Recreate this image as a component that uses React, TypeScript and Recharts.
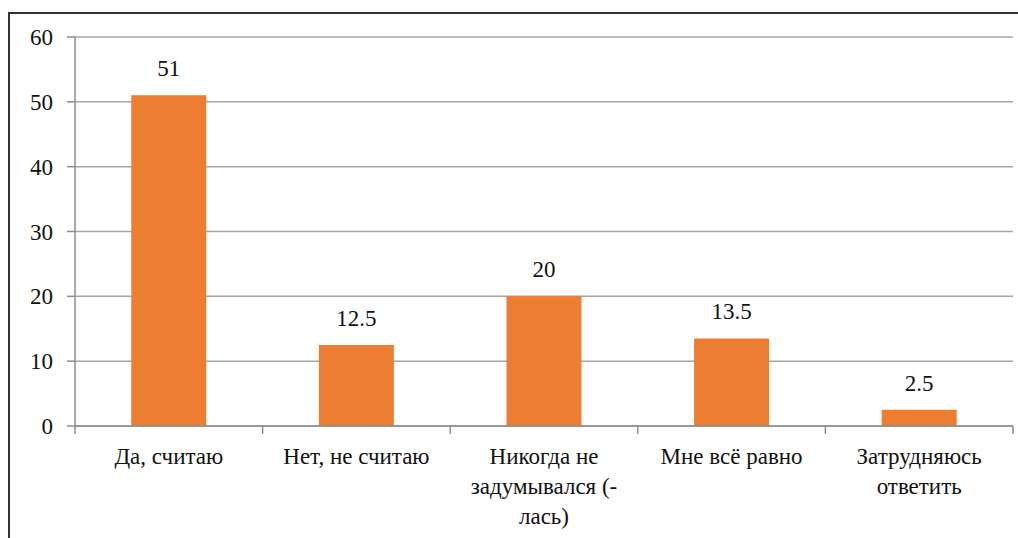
import React from 'react';
import { BarChart, Bar, XAxis, YAxis, CartesianGrid, LabelList } from 'recharts';

const categories = [
  'Да, считаю',
  'Нет, не считаю',
  'Никогда не задумывался (-лась)',
  'Мне всё равно',
  'Затрудняюсь ответить',
];
const categoryLines = [
  ['Да, считаю'],
  ['Нет, не считаю'],
  ['Никогда не', 'задумывался (-', 'лась)'],
  ['Мне всё равно'],
  ['Затрудняюсь', 'ответить'],
];
const values = [51, 12.5, 20, 13.5, 2.5];
const yTicks = [0, 10, 20, 30, 40, 50, 60];

const data = categories.map((c, i) => ({ name: c, value: values[i] }));

const FONT = 'Liberation Serif';
const FS = 23;
const AXIS = '#8c8c8c';

const CatTick = (props: any) => {
  const { x, y, payload, index, visibleTicksCount } = props;
  const idx = payload?.index ?? index ?? 0;
  const lines = categoryLines[idx] ?? [String(payload.value)];
  const off = payload?.offset ?? 0;
  const isLast = idx === (visibleTicksCount ?? categories.length) - 1;
  return (
    <g>
      <line x1={x - off} x2={x - off} y1={y - 8} y2={y} stroke={AXIS} strokeWidth={1.5} />
      {isLast && <line x1={x + off} x2={x + off} y1={y - 8} y2={y} stroke={AXIS} strokeWidth={1.5} />}
      <text
        x={x}
        y={y}
        textAnchor="middle"
        fontFamily={FONT}
        fontSize={FS}
        fill="#111"
        style={{ fontFamily: FONT }}
      >
        {lines.map((l, i) => (
          <tspan key={i} x={x} dy={30}>
            {l}
          </tspan>
        ))}
      </text>
    </g>
  );
};

export default function App() {
  return (
    <div style={{ position: 'absolute', left: 0, top: 0, width: 1018, height: 538, background: '#fff', fontFamily: FONT }}>
      <style>{`svg text, svg tspan { font-family: 'Liberation Serif', serif; }`}</style>
      <div style={{ position: 'absolute', left: 0, top: 0 }}>
        <BarChart
          width={1018}
          height={538}
          data={data}
          margin={{ top: 37, right: 5, left: 0, bottom: 0 }}
          barCategoryGap="30%"
          style={{ fontFamily: FONT }}
        >
          <CartesianGrid horizontal vertical={false} stroke="#a6a6a6" strokeWidth={1.5} />
          <XAxis
            dataKey="name"
            height={112}
            axisLine={{ stroke: AXIS, strokeWidth: 1.5 }}
            tickLine={false}
            tickSize={8}
            tickMargin={0}
            interval={0}
            tick={<CatTick />}
          />
          <YAxis
            width={75}
            domain={[0, 60]}
            ticks={yTicks}
            tickSize={8}
            tickMargin={14}
            axisLine={{ stroke: AXIS, strokeWidth: 1.5 }}
            tickLine={{ stroke: AXIS, strokeWidth: 1.5 }}
            tick={{ fontFamily: FONT, fontSize: FS, fill: '#111' }}
          />
          <Bar dataKey="value" fill="#ED7D31" isAnimationActive={false}>
            <LabelList
              dataKey="value"
              position="top"
              offset={19}
              fontFamily={FONT}
              fontSize={FS}
              fill="#111"
            />
          </Bar>
        </BarChart>
      </div>
      <div
        style={{
          position: 'absolute',
          left: 8,
          top: 12,
          width: 1030,
          height: 540,
          borderLeft: '2px solid #333',
          borderTop: '2px solid #333',
          pointerEvents: 'none',
        }}
      />
    </div>
  );
}
